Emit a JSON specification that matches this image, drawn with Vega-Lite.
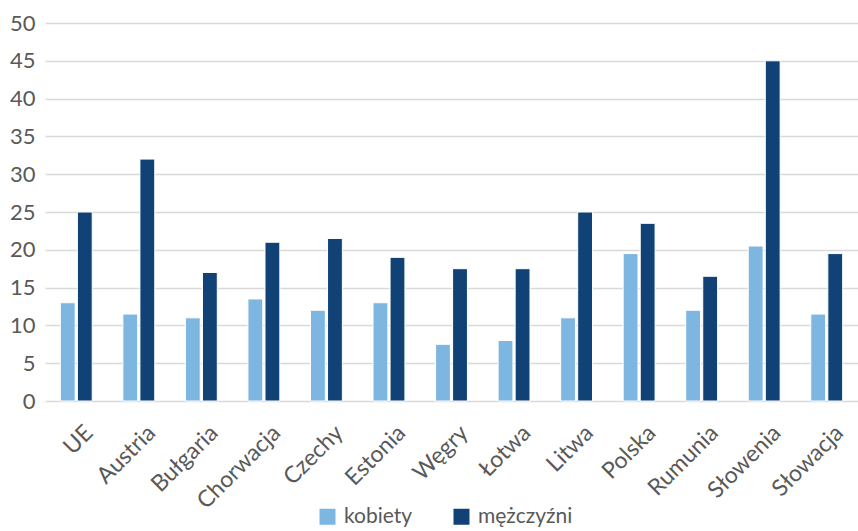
{
  "$schema": "https://vega.github.io/schema/vega-lite/v6.json",
  "width": 813,
  "height": 378,
  "autosize": {"type": "none"},
  "padding": {"left": 45, "top": 23, "right": 0, "bottom": 130},
  "background": "white",
  "config": {
    "view": {"stroke": null},
    "font": "Lato",
    "axis": {"labelColor": "#595959", "labelFont": "Lato"},
    "legend": {"labelColor": "#595959", "labelFont": "Lato"}
  },
  "data": {
    "values": [
      {"kraj": "UE", "plec": "kobiety", "wartosc": 13},
      {"kraj": "UE", "plec": "mężczyźni", "wartosc": 25},
      {"kraj": "Austria", "plec": "kobiety", "wartosc": 11.5},
      {"kraj": "Austria", "plec": "mężczyźni", "wartosc": 32},
      {"kraj": "Bułgaria", "plec": "kobiety", "wartosc": 11},
      {"kraj": "Bułgaria", "plec": "mężczyźni", "wartosc": 17},
      {"kraj": "Chorwacja", "plec": "kobiety", "wartosc": 13.5},
      {"kraj": "Chorwacja", "plec": "mężczyźni", "wartosc": 21},
      {"kraj": "Czechy", "plec": "kobiety", "wartosc": 12},
      {"kraj": "Czechy", "plec": "mężczyźni", "wartosc": 21.5},
      {"kraj": "Estonia", "plec": "kobiety", "wartosc": 13},
      {"kraj": "Estonia", "plec": "mężczyźni", "wartosc": 19},
      {"kraj": "Węgry", "plec": "kobiety", "wartosc": 7.5},
      {"kraj": "Węgry", "plec": "mężczyźni", "wartosc": 17.5},
      {"kraj": "Łotwa", "plec": "kobiety", "wartosc": 8},
      {"kraj": "Łotwa", "plec": "mężczyźni", "wartosc": 17.5},
      {"kraj": "Litwa", "plec": "kobiety", "wartosc": 11},
      {"kraj": "Litwa", "plec": "mężczyźni", "wartosc": 25},
      {"kraj": "Polska", "plec": "kobiety", "wartosc": 19.5},
      {"kraj": "Polska", "plec": "mężczyźni", "wartosc": 23.5},
      {"kraj": "Rumunia", "plec": "kobiety", "wartosc": 12},
      {"kraj": "Rumunia", "plec": "mężczyźni", "wartosc": 16.5},
      {"kraj": "Słowenia", "plec": "kobiety", "wartosc": 20.5},
      {"kraj": "Słowenia", "plec": "mężczyźni", "wartosc": 45},
      {"kraj": "Słowacja", "plec": "kobiety", "wartosc": 11.5},
      {"kraj": "Słowacja", "plec": "mężczyźni", "wartosc": 19.5}
    ]
  },
  "mark": {"type": "bar", "stroke": "white", "strokeWidth": 1},
  "encoding": {
    "x": {
      "field": "kraj",
      "type": "nominal",
      "sort": null,
      "scale": {"paddingInner": 0.49, "paddingOuter": 0.245},
      "axis": {
        "title": null,
        "domain": false,
        "ticks": false,
        "labelAngle": -45,
        "labelAlign": "right",
        "labelBaseline": "middle",
        "labelPadding": 28,
        "labelOffset": 13,
        "labelFontSize": 23,
        "labelOverlap": false
      }
    },
    "xOffset": {
      "field": "plec",
      "type": "nominal",
      "scale": {"paddingInner": 0.13}
    },
    "y": {
      "field": "wartosc",
      "type": "quantitative",
      "scale": {"domain": [0, 50]},
      "axis": {
        "title": null,
        "domain": false,
        "ticks": false,
        "values": [0, 5, 10, 15, 20, 25, 30, 35, 40, 45, 50],
        "labelFontSize": 22,
        "labelPadding": 10,
        "gridColor": "#D9D9D9",
        "gridWidth": 1.5
      }
    },
    "color": {
      "field": "plec",
      "type": "nominal",
      "scale": {"domain": ["kobiety", "mężczyźni"], "range": ["#7EB6E2", "#114276"]},
      "legend": {
        "title": null,
        "orient": "none",
        "legendX": 272,
        "legendY": 483,
        "direction": "horizontal",
        "symbolType": "square",
        "symbolSize": 256,
        "symbolStrokeWidth": 0,
        "symbolOffset": 0,
        "labelFontSize": 21,
        "labelOffset": 6,
        "columnPadding": 38
      }
    }
  }
}
